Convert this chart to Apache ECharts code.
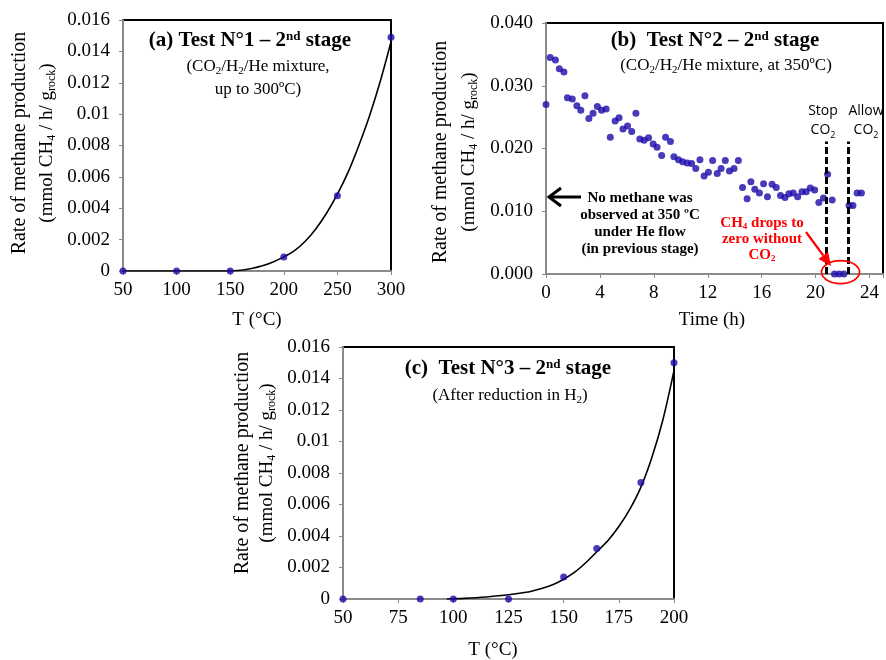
<!DOCTYPE html>
<html><head><meta charset="utf-8">
<script src="https://cdn.jsdelivr.net/npm/echarts@6/dist/echarts.min.js"></script>
<style>html,body{margin:0;padding:0;background:#fff}#c{width:886px;height:660px}</style>
</head><body><div id="c"></div>
<script>
// ---- Panel (a) ----
const aTemp = [50, 100, 150, 200, 250, 300];
const aRate = [0, 0, 0, 0.0009, 0.0048, 0.0149];
const aFitTemp = [50, 100, 150, 160, 170, 180, 190, 200, 210, 220, 230, 240, 250, 260, 270, 280, 290, 300];
const aFitRate = [0, 0, 0, 0.00005, 0.00016, 0.00033, 0.00058, 0.0009, 0.0013, 0.0019, 0.0027, 0.0037, 0.0049, 0.0063, 0.008, 0.0099, 0.0121, 0.0146];
const aXTicks = [50, 100, 150, 200, 250, 300];
const aYTicks = [0, 0.002, 0.004, 0.006, 0.008, 0.01, 0.012, 0.014, 0.016];

// ---- Panel (b) ----
const bTime = [0, 0.31, 0.70, 0.99, 1.33, 1.59, 1.95, 2.29, 2.58, 2.89, 3.18, 3.49, 3.81, 4.12, 4.46, 4.77,
  5.13, 5.42, 5.71, 6.05, 6.36, 6.67, 6.96, 7.28, 7.61, 7.95, 8.24, 8.58, 8.87, 9.23, 9.49, 9.83,
  10.14, 10.48, 10.80, 11.11, 11.42, 11.73, 12.05, 12.36, 12.70, 12.99, 13.30, 13.61, 13.95, 14.27,
  14.58, 14.92, 15.20, 15.49, 15.83, 16.14, 16.43, 16.77, 17.08, 17.40, 17.73, 18.02, 18.34, 18.67,
  18.99, 19.30, 19.61, 19.93, 20.24, 20.58, 20.89, 21.23, 21.40, 21.75, 22.10, 22.48, 22.77, 23.08, 23.40];
const bRate = [0.0270, 0.0345, 0.0341, 0.0327, 0.0322, 0.0281, 0.0279, 0.0268, 0.0261, 0.0284, 0.0248, 0.0256, 0.0267, 0.0261, 0.0263, 0.0218,
  0.0244, 0.0249, 0.0231, 0.0236, 0.0227, 0.0256, 0.0215, 0.0213, 0.0217, 0.0207, 0.0202, 0.0189, 0.0218, 0.0211, 0.0187, 0.0182,
  0.0179, 0.0177, 0.0176, 0.0168, 0.0182, 0.0156, 0.0162, 0.0181, 0.0160, 0.0168, 0.0181, 0.0164, 0.0168, 0.0181,
  0.0138, 0.0120, 0.0147, 0.0135, 0.0129, 0.0144, 0.0123, 0.0143, 0.0138, 0.0125, 0.0122, 0.0128, 0.0129, 0.0123,
  0.0131, 0.0131, 0.0137, 0.0134, 0.0114, 0.0121, 0.0159, 0.0118, 0, 0, 0, 0.0109, 0.0109, 0.0129, 0.0129];
const bStopTime = 20.8;
const bAllowTime = 22.42;
const bDashTop = 0.0211;
const bCircleCenter = [21.85, 0.0003];
const bXTicks = [0, 4, 8, 12, 16, 20, 24];
const bYTicks = [0, 0.01, 0.02, 0.03, 0.04];

// ---- Panel (c) ----
const cTemp = [50, 85, 100, 125, 150, 165, 185, 200];
const cRate = [0, 0, 0, 0, 0.0014, 0.0032, 0.0074, 0.015];
const cFitTemp = [97, 105, 115, 125, 130, 135, 140, 145, 150, 155, 160, 165, 170, 175, 180, 185, 190, 195, 200];
const cFitRate = [0, 0.00004, 0.00013, 0.00027, 0.00036, 0.00048, 0.00066, 0.0009, 0.00125, 0.0017, 0.0023, 0.003, 0.0037, 0.0046, 0.0057, 0.0071, 0.009, 0.0114, 0.0145];
const cXTicks = [50, 75, 100, 125, 150, 175, 200];
const cYTicks = [0, 0.002, 0.004, 0.006, 0.008, 0.01, 0.012, 0.014, 0.016];

const SERIF = '"Liberation Serif","Times New Roman",serif';
const SANS = '"Open Sans","Noto Sans",sans-serif';
const DOT = '#1a0aa8';
const AXIS_GRAY = '#8a8a8a';

const chart = echarts.init(document.getElementById('c'), null, {renderer: 'canvas'});

function zip(a, b) { return a.map((v, i) => [v, b[i]]); }
function fmtA(v) { return v === 0 ? '0' : String(+v.toFixed(3)); }

function xAxisDef(gi, ticks, fmt) {
  return {
    type: 'value', gridIndex: gi, min: ticks[0], max: ticks[ticks.length - 1], interval: ticks[1] - ticks[0],
    splitLine: {show: false},
    axisLine: {show: true, onZero: false, lineStyle: {color: AXIS_GRAY, width: 2}},
    axisTick: {show: true, inside: false, length: 4, lineStyle: {color: AXIS_GRAY, width: 1}},
    axisLabel: {color: '#000', fontFamily: SERIF, fontSize: 19, margin: 10, formatter: fmt}
  };
}
function yAxisDef(gi, ticks, fmt) {
  return {
    type: 'value', gridIndex: gi, min: ticks[0], max: ticks[ticks.length - 1], interval: ticks[1] - ticks[0],
    splitLine: {show: false},
    axisLine: {show: true, onZero: false, lineStyle: {color: AXIS_GRAY, width: 2}},
    axisTick: {show: true, inside: false, length: 4, lineStyle: {color: AXIS_GRAY, width: 1}},
    axisLabel: {color: '#000', fontFamily: SERIF, fontSize: 19, margin: 13, formatter: fmt}
  };
}

function txt(x, y, text, o) {
  o = o || {};
  return {
    type: 'text', x: x, y: y, rotation: o.rot || 0, z: 100,
    style: {
      text: text, fill: o.color || '#000', fontFamily: o.family || SERIF, fontSize: o.size || 17,
      fontWeight: o.weight || 'normal', align: 'center', verticalAlign: 'middle',
      lineHeight: o.lh, rich: o.rich || {}
    }
  };
}
function mkRich(size, weight, color) {
  return {
    sub: {fontFamily: SERIF, fontSize: Math.round(size * 0.62), fontWeight: weight, verticalAlign: 'bottom', padding: [Math.round(size * 0.45), 0, 0, 0], fill: color || '#000'},
    sup: {fontFamily: SERIF, fontSize: Math.round(size * 0.62), fontWeight: weight, verticalAlign: 'top', padding: [0, 0, Math.round(size * 0.45), 0], fill: color || '#000'}
  };
}

const option = {
  animation: false,
  backgroundColor: '#fff',
  grid: [
    {left: 123, top: 20, width: 268, height: 251, show: true, borderColor: '#000', borderWidth: 2, backgroundColor: 'transparent'},
    {left: 546, top: 23, width: 345.8, height: 251, show: true, borderColor: '#000', borderWidth: 2, backgroundColor: 'transparent'},
    {left: 343, top: 347, width: 331, height: 252, show: true, borderColor: '#000', borderWidth: 2, backgroundColor: 'transparent'}
  ],
  xAxis: [
    xAxisDef(0, aXTicks, v => String(v)),
    Object.assign(xAxisDef(1, bXTicks, v => (v % 4 === 0 && v <= 24) ? String(v) : ''), {max: 25}),
    xAxisDef(2, cXTicks, v => String(v))
  ],
  yAxis: [
    yAxisDef(0, aYTicks, fmtA),
    yAxisDef(1, bYTicks, v => v.toFixed(3)),
    yAxisDef(2, cYTicks, fmtA)
  ],
  series: [
    {type: 'line', xAxisIndex: 0, yAxisIndex: 0, data: zip(aFitTemp, aFitRate), smooth: 0.3,
      showSymbol: false, symbol: 'none', lineStyle: {color: '#000', width: 1.6}, z: 3},
    {type: 'scatter', xAxisIndex: 0, yAxisIndex: 0, data: zip(aTemp, aRate), symbolSize: 7, itemStyle: {color: DOT}, z: 4},
    {type: 'scatter', xAxisIndex: 1, yAxisIndex: 1, data: zip(bTime, bRate), symbolSize: 7, itemStyle: {color: DOT}, z: 4,
      markLine: {
        silent: true, symbol: ['none', 'none'], label: {show: false},
        lineStyle: {color: '#000', width: 3, type: [7, 3]},
        data: [
          [{coord: [bStopTime, 0]}, {coord: [bStopTime, bDashTop]}],
          [{coord: [bAllowTime, 0]}, {coord: [bAllowTime, bDashTop]}]
        ]
      }},
    {type: 'line', xAxisIndex: 2, yAxisIndex: 2, data: zip(cFitTemp, cFitRate), smooth: 0.3,
      showSymbol: false, symbol: 'none', lineStyle: {color: '#000', width: 1.6}, z: 3},
    {type: 'scatter', xAxisIndex: 2, yAxisIndex: 2, data: zip(cTemp, cRate), symbolSize: 7, itemStyle: {color: DOT}, z: 4}
  ]
};
chart.setOption(option);

const cc = chart.convertToPixel({gridIndex: 1}, bCircleCenter);
const R = 'red';
const rich21b = mkRich(21, 'bold');
const rich17 = mkRich(17, 'normal');
const rich19 = mkRich(19, 'normal');
const rich15bR = mkRich(15, 'bold', R);
const richSans = {sub: {fontFamily: SANS, fontSize: 9, verticalAlign: 'bottom', padding: [6, 0, 0, 0], fill: '#000'}};

const arrowTip = [831, 266], arrowTail = [806, 232];
const ang = Math.atan2(arrowTip[1] - arrowTail[1], arrowTip[0] - arrowTail[0]);
const hl = 13, hw = 6;
const baseX = arrowTip[0] - hl * Math.cos(ang), baseY = arrowTip[1] - hl * Math.sin(ang);
const head = [
  arrowTip,
  [baseX + hw * Math.sin(ang), baseY - hw * Math.cos(ang)],
  [baseX - hw * Math.sin(ang), baseY + hw * Math.cos(ang)]
];

chart.setOption({
  graphic: [
    // Panel (a)
    txt(250, 41, '(a) Test N°1 – 2{sup|nd} stage', {size: 21, weight: 'bold', rich: rich21b}),
    txt(258, 67, '(CO{sub|2}/H{sub|2}/He mixture,', {size: 17, rich: rich17}),
    txt(258, 90, 'up to 300ºC)', {size: 17}),
    txt(20, 143, 'Rate of methane production', {size: 20, rot: Math.PI / 2}),
    txt(47, 143, '(mmol CH{sub|4} / h/ g{sub|rock})', {size: 19, rot: Math.PI / 2, rich: rich19}),
    txt(257, 320, 'T (°C)', {size: 19}),
    // Panel (b)
    txt(715, 41, '(b)  Test N°2 – 2{sup|nd} stage', {size: 21, weight: 'bold', rich: rich21b}),
    txt(726, 66, '(CO{sub|2}/H{sub|2}/He mixture, at 350ºC)', {size: 17, rich: rich17}),
    txt(441, 152, 'Rate of methane production', {size: 20, rot: Math.PI / 2}),
    txt(469, 152, '(mmol CH{sub|4} / h/ g{sub|rock})', {size: 19, rot: Math.PI / 2, rich: rich19}),
    txt(712, 320, 'Time (h)', {size: 19}),
    txt(640, 224, 'No methane was\nobserved at 350 ºC\nunder He flow\n(in previous stage)', {size: 15, weight: 'bold', lh: 17}),
    txt(762, 239, 'CH{sub|4} drops to\nzero without\nCO{sub|2}', {size: 15, weight: 'bold', lh: 16, color: R, rich: rich15bR}),
    txt(823, 121, 'Stop\nCO{sub|2}', {size: 14, family: SANS, lh: 19, rich: richSans}),
    txt(866, 121, 'Allow\nCO{sub|2}', {size: 14, family: SANS, lh: 19, rich: richSans}),
    {type: 'ellipse', z: 100, shape: {cx: cc[0], cy: cc[1], rx: 19, ry: 11.5}, style: {fill: 'none', stroke: R, lineWidth: 1.6}},
    {type: 'line', z: 100, shape: {x1: arrowTail[0], y1: arrowTail[1], x2: baseX, y2: baseY}, style: {stroke: R, lineWidth: 2.2}},
    {type: 'polygon', z: 100, shape: {points: head}, style: {fill: R}},
    {type: 'line', z: 100, shape: {x1: 581, y1: 197, x2: 549, y2: 197}, style: {stroke: '#000', lineWidth: 3}},
    {type: 'polyline', z: 100, shape: {points: [[561, 188], [549, 197], [561, 206]]}, style: {stroke: '#000', lineWidth: 3, fill: 'none'}},
    // Panel (c)
    txt(508, 369, '(c)  Test N°3 – 2{sup|nd} stage', {size: 21, weight: 'bold', rich: rich21b}),
    txt(510, 396, '(After reduction in H{sub|2})', {size: 17, rich: rich17}),
    txt(243, 463, 'Rate of methane production', {size: 20, rot: Math.PI / 2}),
    txt(267, 463, '(mmol CH{sub|4} / h/ g{sub|rock})', {size: 19, rot: Math.PI / 2, rich: rich19}),
    txt(493, 650, 'T (°C)', {size: 19})
  ]
});
</script></body></html>
